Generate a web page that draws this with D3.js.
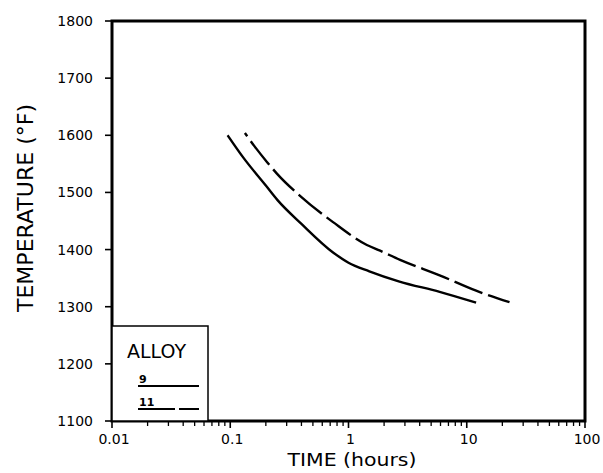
<!DOCTYPE html>
<html><head><meta charset="utf-8">
<script src="https://cdn.jsdelivr.net/npm/d3@7"></script>
<style>body{margin:0;background:#fff}svg{display:block}text{font-family:"DejaVu Sans",sans-serif;fill:#000}</style>
</head><body><svg id="c" width="603" height="473"></svg>
<script>
const xMajorTicks = [0.01, 0.1, 1, 10, 100];
const xTickLabels = ["0.01", "0.1", "1", "10", "100"];
const yTicks = [1100, 1200, 1300, 1400, 1500, 1600, 1700, 1800];
const alloyNames = ["9", "11"];
const alloy9 = [[0.095,1600],[0.13,1560],[0.2,1512],[0.25,1487],[0.4,1445],[0.74,1395],[1,1377],[1.5,1362],[2.7,1344],[5.9,1326],[12,1307]];
const alloy11 = [[0.133,1604],[0.16,1581],[0.205,1553],[0.248,1533],[0.389,1494],[0.74,1448],[1.43,1408],[1.85,1398],[2.73,1382],[5.9,1355],[12,1328],[23,1308]];

const svg = d3.select("#c");
const L = 112, R = 585, T = 21, B = 421;
const x = d3.scaleLog().domain([0.01, 100]).range([L, R]);
const y = d3.scaleLinear().domain([1100, 1800]).range([B, T]);

// x ticks (major + minor)
const minor = [];
for (let d = 0.01; d < 100; d *= 10) for (let k = 2; k <= 9; k++) minor.push(+(d * k).toPrecision(3));
const gx = svg.append("g");
gx.selectAll("line.mi").data(minor).join("line")
  .attr("x1", d => x(d)).attr("x2", d => x(d)).attr("y1", B).attr("y2", B + 5)
  .attr("stroke", "#000").attr("stroke-width", 1.3);
gx.selectAll("line.ma").data(xMajorTicks).join("line")
  .attr("x1", d => x(d)).attr("x2", d => x(d)).attr("y1", B).attr("y2", B + 7)
  .attr("stroke", "#000").attr("stroke-width", 1.6);
gx.selectAll("text").data(xMajorTicks).join("text")
  .attr("x", d => x(d) + 2).attr("y", B + 23).attr("text-anchor", "middle")
  .attr("font-size", 14).text((d, i) => xTickLabels[i]);

// y ticks
const gy = svg.append("g");
gy.selectAll("line").data(yTicks).join("line")
  .attr("x1", L - 7).attr("x2", L).attr("y1", d => y(d)).attr("y2", d => y(d))
  .attr("stroke", "#000").attr("stroke-width", 1.6);
gy.selectAll("text").data(yTicks).join("text")
  .attr("x", L - 19).attr("y", d => y(d) + 5).attr("text-anchor", "end")
  .attr("font-size", 14).text(d => d);

// frame
svg.append("rect").attr("x", L).attr("y", T).attr("width", R - L).attr("height", B - T)
  .attr("fill", "none").attr("stroke", "#000").attr("stroke-width", 3);

// curves
const line = d3.line().x(d => x(d[0])).y(d => y(d[1])).curve(d3.curveMonotoneX);
svg.append("path").datum(alloy9).attr("d", line).attr("fill", "none")
  .attr("stroke", "#000").attr("stroke-width", 2.4);
svg.append("path").datum(alloy11).attr("d", line).attr("fill", "none")
  .attr("stroke", "#000").attr("stroke-width", 2.4).attr("stroke-dasharray", "4,6,30,6,30,6,30,6,30,6,30,6,30,6,30,6,30,6,30,6,30,6,30,6");

// legend
const lg = svg.append("g");
lg.append("rect").attr("x", L).attr("y", 326).attr("width", 96).attr("height", B - 326)
  .attr("fill", "#fff").attr("stroke", "#000").attr("stroke-width", 1.5);
lg.append("text").attr("x", 127).attr("y", 358).attr("font-size", 19).text("ALLOY");
lg.append("text").attr("x", 139).attr("y", 383).attr("font-size", 11).attr("font-weight", "bold").text(alloyNames[0]);
lg.append("line").attr("x1", 138).attr("x2", 199).attr("y1", 386).attr("y2", 386).attr("stroke", "#000").attr("stroke-width", 2);
lg.append("text").attr("x", 139).attr("y", 406).attr("font-size", 11).attr("font-weight", "bold").text(alloyNames[1]);
lg.append("line").attr("x1", 138).attr("x2", 199).attr("y1", 409).attr("y2", 409).attr("stroke", "#000").attr("stroke-width", 2).attr("stroke-dasharray", "37,4");

// axis titles
svg.append("text").attr("x", 352).attr("y", 466).attr("text-anchor", "middle")
  .attr("font-size", 18).attr("textLength", 129).attr("lengthAdjust", "spacingAndGlyphs").text("TIME (hours)");
svg.append("text").attr("transform", "translate(33,208) rotate(-90)").attr("text-anchor", "middle")
  .attr("font-size", 21).attr("textLength", 208).attr("lengthAdjust", "spacingAndGlyphs").text("TEMPERATURE (°F)");
</script></body></html>
